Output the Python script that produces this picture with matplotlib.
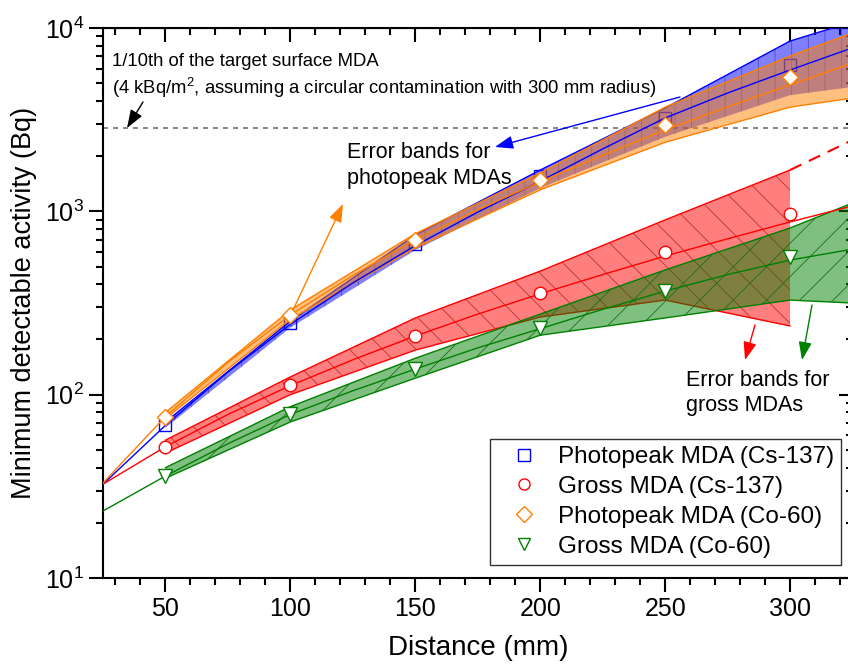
import matplotlib
matplotlib.use("Agg")
import matplotlib.pyplot as plt
from matplotlib.lines import Line2D
from matplotlib.patches import FancyArrowPatch

plt.rcParams['font.family'] = ['Liberation Sans', 'DejaVu Sans']
plt.rcParams['mathtext.fontset'] = 'custom'
plt.rcParams['mathtext.rm'] = 'Liberation Sans'
plt.rcParams['mathtext.it'] = 'Liberation Sans'
plt.rcParams['hatch.linewidth'] = 0.6

# measured points
dist = [50, 100, 150, 200, 250, 300]
pp_cs = [68, 246, 663, 1550, 3228, 6285]
gr_cs = [52, 113, 209, 358, 600, 967]
pp_co = [75.5, 272, 697, 1482, 2958, 5407]
gr_co = [36, 78.4, 138, 231, 367, 563]

# fitted curves
fit_x = [25, 50, 75, 100, 125, 150, 175, 200, 225, 250, 275, 300, 325]
fit_pp_cs = [32.5, 68, 133, 242, 407, 650, 990, 1460, 2190, 3230, 4420, 5900, 7800]
fit_gr_cs = [32.5, 52, 78, 112, 155, 209, 275, 355, 452, 570, 708, 875, 1070]
fit_pp_co = [33, 76, 150, 272, 447, 700, 1020, 1450, 2020, 2780, 3715, 4890, 6440]
fit_gr_co = [23.2, 36, 54, 78, 105, 138, 180, 229, 292, 367, 452, 542, 622]

# error bands
band_x_pp = [50, 100, 150, 200, 250, 300, 325]
pp_cs_lo = [66, 232, 615, 1340, 2550, 4300, 4770]
pp_cs_hi = [71, 252, 743, 1680, 3660, 8490, 10800]
pp_co_lo = [74, 258, 632, 1310, 2380, 3700, 4150]
pp_co_hi = [80, 290, 755, 1620, 3700, 7030, 9400]

band_x_gr_cs = [50, 100, 150, 200, 250, 300]
gr_cs_lo = [48, 100, 175, 265, 328, 237]
gr_cs_hi = [56.5, 125, 262, 472, 898, 1680]
gr_cs_ext_x = [300, 325]
gr_cs_ext_y = [1680, 2450]

band_x_gr_co = [50, 100, 150, 200, 250, 300, 325]
gr_co_lo = [35, 71, 123, 211, 262, 328, 316]
gr_co_hi = [40, 86, 158, 275, 479, 811, 1110]

target_level = 2840

BLUE = '#0000FF'
RED = '#FF0000'
ORANGE = '#FF8000'
GREEN = '#008000'

W, H = 848, 666
fig = plt.figure(figsize=(W / 100, H / 100), dpi=100)
ax = fig.add_axes([103 / W, 88 / H, 749.5 / W, 550 / H])


def fx(x):
    return x / W


def fy(y):
    return 1 - y / H


# gross bands
ax.fill_between(band_x_gr_cs, gr_cs_lo, gr_cs_hi, facecolor=(1, 0, 0, 0.5),
                edgecolor='#C03030', hatch='\\', linewidth=0, zorder=2)
ax.plot(band_x_gr_cs, gr_cs_lo, color=RED, lw=1, zorder=2)
ax.plot(band_x_gr_cs, gr_cs_hi, color=RED, lw=1, zorder=2)
ax.plot(gr_cs_ext_x, gr_cs_ext_y, color=RED, lw=1.5, ls=(0, (6, 4)), zorder=2)
ax.fill_between(band_x_gr_co, gr_co_lo, gr_co_hi, facecolor=(0, 0.5, 0, 0.5),
                edgecolor='#1E6E1E', hatch='/', linewidth=0, zorder=2.5)
ax.plot(band_x_gr_co, gr_co_lo, color=GREEN, lw=1, zorder=2.5)
ax.plot(band_x_gr_co, gr_co_hi, color=GREEN, lw=1, zorder=2.5)

# photopeak bands
ax.plot(dist, pp_cs, ls='none', marker='s', ms=8, mfc='white', mec=BLUE, mew=1, zorder=2.8)
ax.fill_between(band_x_pp, pp_cs_lo, pp_cs_hi, facecolor=(0, 0, 1, 0.5),
                edgecolor='#5050B0', hatch='|', linewidth=0, zorder=3)
ax.plot(band_x_pp, pp_cs_hi, color=BLUE, lw=1, zorder=3)
ax.fill_between(band_x_pp, pp_co_lo, pp_co_hi, facecolor=(1, 0.5, 0, 0.5),
                edgecolor='none', linewidth=0, zorder=3.2)
ax.plot(band_x_pp, pp_co_lo, color=ORANGE, lw=1, zorder=3.2)
ax.plot(band_x_pp, pp_co_hi, color=ORANGE, lw=1, zorder=3.2)

# fit lines
ax.plot(fit_x, fit_pp_cs, color=BLUE, lw=1, zorder=4)
ax.plot(fit_x, fit_gr_cs, color=RED, lw=1, zorder=4)
ax.plot(fit_x, fit_pp_co, color=ORANGE, lw=1, zorder=4)
ax.plot(fit_x, fit_gr_co, color=GREEN, lw=1, zorder=4)

# markers
ax.plot(dist, gr_cs, ls='none', marker='o', ms=9, mfc='white', mec=RED, mew=1, zorder=5)
ax.plot(dist, pp_co, ls='none', marker='D', ms=8, mfc='white', mec=ORANGE, mew=1, zorder=5)
ax.plot(dist, gr_co, ls='none', marker='v', ms=10, mfc='white', mec=GREEN, mew=1, zorder=5)

ax.axhline(target_level, color='#707070', lw=1.2, ls=(0, (3, 3)), zorder=1)

ax.set_yscale('log')
ax.set_xlim(25, 325)
ax.set_ylim(10, 10000)
ax.set_xticks([50, 100, 150, 200, 250, 300])
ax.set_xticks(range(30, 325, 10), minor=True)
ax.tick_params(which='major', length=10, width=1.5, direction='out', labelsize=18)
ax.tick_params(which='minor', length=5, width=1.5, direction='out')
for s in ax.spines.values():
    s.set_linewidth(1.5)

top = ax.secondary_xaxis('top')
top.set_xticks([50, 100, 150, 200, 250, 300])
top.set_xticks(range(30, 325, 10), minor=True)
top.tick_params(which='major', length=10, width=1.5, direction='in', labeltop=False)
top.tick_params(which='minor', length=5, width=1.5, direction='in')
right = ax.secondary_yaxis('right')
right.tick_params(which='major', length=10, width=1.5, direction='in', labelright=False)
right.tick_params(which='minor', length=5, width=1.5, direction='in', labelright=False)

ax.set_xlabel('Distance (mm)', fontsize=20, labelpad=10)
ax.set_ylabel('Minimum detectable activity (Bq)', fontsize=19.5, labelpad=6)

# annotations
fig.text(fx(112), fy(62), '1/10th of the target surface MDA', fontsize=13.3, va='center')
fig.text(fx(112), fy(88), '(4 kBq/m$^2$, assuming a circular contamination with 300 mm radius)',
         fontsize=13.3, va='center')
fig.text(fx(347), fy(152), 'Error bands for', fontsize=15.5, va='center')
fig.text(fx(347), fy(178), 'photopeak MDAs', fontsize=15.5, va='center')
fig.text(fx(686), fy(380), 'Error bands for', fontsize=15.5, va='center')
fig.text(fx(686), fy(406), 'gross MDAs', fontsize=15.5, va='center')

arrows = [((143, 102), (127, 128), 'black'),
          ((680, 97), (495, 147), BLUE),
          ((293, 310), (343, 204), ORANGE),
          ((755, 325), (745, 360), RED),
          ((812, 305), (802, 360), GREEN)]
for (x0, y0), (x1, y1), c in arrows:
    fig.add_artist(FancyArrowPatch(
        (fx(x0), fy(y0)), (fx(x1), fy(y1)), transform=fig.transFigure,
        arrowstyle='-|>,head_length=11,head_width=4', color=c, lw=1,
        shrinkA=0, shrinkB=0, mutation_scale=1))

handles = [Line2D([], [], ls='none', marker='s', ms=8, mfc='white', mec=BLUE),
           Line2D([], [], ls='none', marker='o', ms=8, mfc='white', mec=RED),
           Line2D([], [], ls='none', marker='D', ms=8, mfc='white', mec=ORANGE),
           Line2D([], [], ls='none', marker='v', ms=9, mfc='white', mec=GREEN)]
labels = ['Photopeak MDA (Cs-137)', 'Gross MDA (Cs-137)',
          'Photopeak MDA (Co-60)', 'Gross MDA (Co-60)']
leg = ax.legend(handles, labels, loc='lower right', bbox_to_anchor=(0.985, 0.024),
                borderaxespad=0, fontsize=17.5, frameon=True, fancybox=False,
                edgecolor='black', handlelength=2.2, handletextpad=0.3,
                labelspacing=0.32, borderpad=0.3)
leg.get_frame().set_linewidth(1)
leg.set_zorder(10)

fig.savefig('out.png', dpi=100)
